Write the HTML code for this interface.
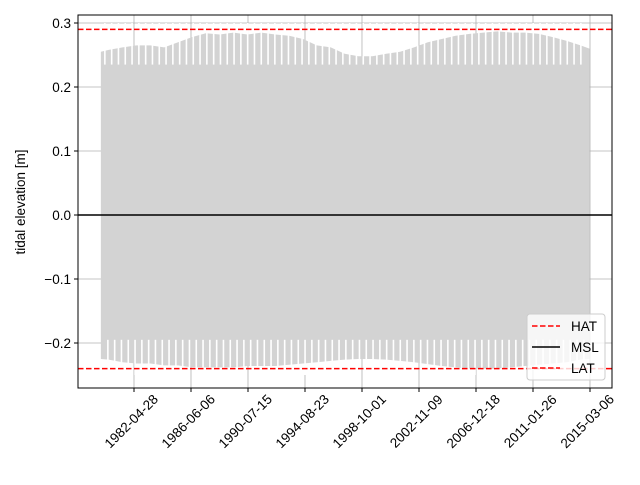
<!DOCTYPE html>
<html><head><meta charset="utf-8"><style>
body{margin:0;background:#fff;}
svg{font-family:"Liberation Sans","DejaVu Sans",sans-serif;}
</style></head><body>
<svg id="c" width="640" height="480">
</svg>
<script>
const years=[1979,1980,1981,1982,1983,1984,1985,1986,1987,1988,1989,1990,1991,1992,1993,1994,1995,1996,1997,1998,1999,2000,2001,2002,2003,2004,2005,2006,2007,2008,2009,2010,2011,2012,2013,2014,2015];
const highs=[0.255,0.258,0.262,0.265,0.265,0.262,0.270,0.278,0.284,0.282,0.285,0.282,0.285,0.282,0.280,0.275,0.265,0.262,0.252,0.248,0.248,0.252,0.255,0.262,0.270,0.275,0.280,0.283,0.285,0.287,0.285,0.285,0.283,0.278,0.272,0.265,0.260];
const lows=[-0.225,-0.226,-0.230,-0.232,-0.232,-0.235,-0.235,-0.238,-0.238,-0.238,-0.238,-0.236,-0.236,-0.236,-0.234,-0.232,-0.230,-0.228,-0.226,-0.225,-0.225,-0.226,-0.228,-0.230,-0.233,-0.236,-0.238,-0.240,-0.240,-0.240,-0.238,-0.236,-0.234,-0.232,-0.230,-0.226,-0.225];
const yTicks=[-0.2,-0.1,0.0,0.1,0.2,0.3];
const xTickLabels=["1982-04-28","1986-06-06","1990-07-15","1994-08-23","1998-10-01","2002-11-09","2006-12-18","2011-01-26","2015-03-06"];
const HAT=0.29, LAT=-0.24, MSL=0.0;
const startDate="1979-12-08", endDate="2015-02-20";
const L=78,R=612,T=15,B=388;
const y=v=>215-v*640;
const ref=Date.parse("1982-04-28");
const x=d=>134+(Date.parse(d)-ref)/86400000*0.038;
const xy=yr=>x(yr+"-07-01");
const svg=document.getElementById('c');
const NS="http://www.w3.org/2000/svg";
function mk(t,a,p){const e=document.createElementNS(NS,t);for(const k in a)e.setAttribute(k,a[k]);(p||svg).appendChild(e);return e;}
yTicks.forEach(v=>{const g=mk('line',{x1:L,x2:R,y1:y(v),y2:y(v),stroke:'#b0b0b0','stroke-width':0.8});

});
xTickLabels.forEach(d=>{const g=mk('line',{x1:x(d),x2:x(d),y1:T,y2:B,stroke:'#b0b0b0','stroke-width':0.8});

});
const x0=x(startDate),x1=x(endDate);
let pts=[];
years.forEach((yr,i)=>{let xx=Math.min(Math.max(xy(yr),x0),x1);pts.push(xx+','+y(highs[i]));});
let bot=[];
years.forEach((yr,i)=>{let xx=Math.min(Math.max(xy(yr),x0),x1);bot.unshift(xx+','+y(lows[i]));});
const band=mk('polygon',{points:[x0+','+y(highs[0]),...pts,x1+','+y(highs[highs.length-1]),x1+','+y(lows[lows.length-1]),...bot,x0+','+y(lows[0])].join(' '),fill:'#d3d3d3'});


for(let xx=x0+4;xx<x1-2;xx+=6.8){
 const n=mk('line',{x1:xx,x2:xx,y1:y(0.30),y2:y(0.235),stroke:'#fff','stroke-width':1.6});
 
 
 const m=mk('line',{x1:xx+3,x2:xx+3,y1:y(-0.195),y2:y(-0.25),stroke:'#fff','stroke-width':1.6});
 
 
}
const hat=mk('line',{x1:L,x2:R,y1:y(HAT),y2:y(HAT),stroke:'#f00','stroke-width':1.5,'stroke-dasharray':'5.5,2.5'});

const lat=mk('line',{x1:L,x2:R,y1:y(LAT),y2:y(LAT),stroke:'#f00','stroke-width':1.5,'stroke-dasharray':'5.5,2.5'});

const msl=mk('line',{x1:L,x2:R,y1:y(MSL),y2:y(MSL),stroke:'#000','stroke-width':1.5});

const fr=mk('rect',{x:L,y:T,width:R-L,height:B-T,fill:'none',stroke:'#000','stroke-width':1});

yTicks.forEach(v=>{mk('line',{x1:L-4,x2:L,y1:y(v),y2:y(v),stroke:'#000'});
 const t=mk('text',{x:L-7,y:y(v)+5,'text-anchor':'end','font-size':13.5});
 t.textContent=(v<0?'\u2212':'')+Math.abs(v).toFixed(1);
 
 });
xTickLabels.forEach(d=>{const xx=x(d);mk('line',{x1:xx,x2:xx,y1:B,y2:B+4,stroke:'#000'});
 const cx=xx-3,cy=B+33;
 const t=mk('text',{x:cx,y:cy+5,'text-anchor':'middle','font-size':13.5,transform:`rotate(-45 ${cx} ${cy})`});
 t.textContent=d;
 
 });
const yl=mk('text',{x:25,y:202,'text-anchor':'middle','font-size':13.5,transform:'rotate(-90 25 202)'});
yl.textContent='tidal elevation [m]';

const lg=mk('g',{});

mk('rect',{x:527,y:314,width:78,height:66,rx:3,fill:'#fff','fill-opacity':0.8,stroke:'#ccc'},lg);
const ent=[['HAT','#f00','5.5,2.5',326],['MSL','#000','',347],['LAT','#f00','5.5,2.5',368]];
ent.forEach(e=>{const g=mk('g',{},lg);
 
 const a={x1:532,x2:560,y1:e[3],y2:e[3],stroke:e[1],'stroke-width':1.5};if(e[2])a['stroke-dasharray']=e[2];mk('line',a,g);
 const t=mk('text',{x:571,y:e[3]+5,'font-size':13.5},g);t.textContent=e[0];});
</script>
</body></html>
